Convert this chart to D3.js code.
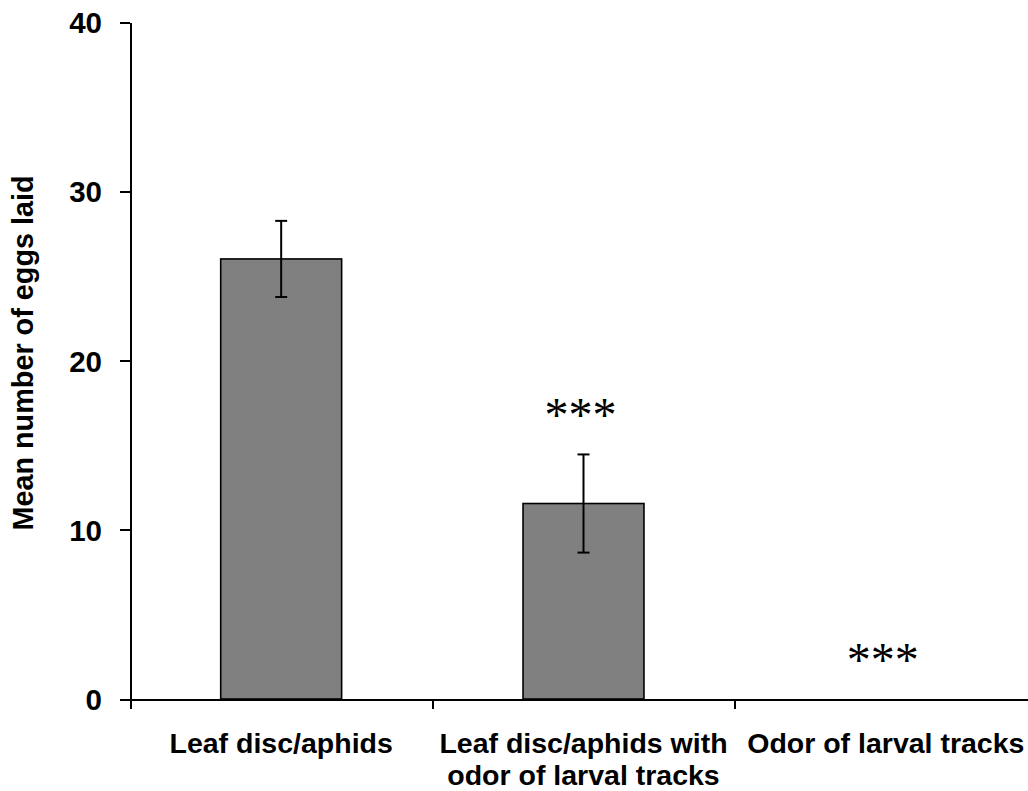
<!DOCTYPE html>
<html>
<head>
<meta charset="utf-8">
<script src="https://cdn.jsdelivr.net/npm/d3@7"></script>
<style>
  html, body { margin: 0; padding: 0; background: #fff; }
  svg { display: block; }
  .axis path, .axis line { stroke: #000; stroke-width: 2px; shape-rendering: crispEdges; }
  .axis text { font-family: "Liberation Sans", Arial, sans-serif; font-weight: bold; fill: #000; }
</style>
</head>
<body>
<svg id="chart" width="1028" height="791"></svg>
<script>
// Treatments, mean eggs laid, standard errors and significance marks
const categories = ["Leaf disc/aphids", "Leaf disc/aphids with odor of larval tracks", "Odor of larval tracks"];
const categoryLines = [["Leaf disc/aphids"], ["Leaf disc/aphids with", "odor of larval tracks"], ["Odor of larval tracks"]];
const meanEggs = [26.0, 11.55, 0];
const stdErrors = [2.25, 2.9, 0];
const significance = ["", "***", "***"];
const yTicks = [0, 10, 20, 30, 40];
const yTitle = "Mean number of eggs laid";

const svg = d3.select("#chart");
const plotLeft = 130, plotRight = 1037, plotTop = 22, plotBottom = 699;

const x = d3.scaleBand()
  .domain(categories)
  .range([plotLeft, plotRight])
  .paddingInner(0.6)
  .paddingOuter(0.3);

// Category boundaries, used for the x-axis ticks
const xEdge = d3.scaleLinear().domain([0, categories.length]).range([plotLeft, plotRight]);

const y = d3.scaleLinear().domain([0, 40]).range([plotBottom, plotTop]);

// Bars
svg.append("g").selectAll("rect")
  .data(categories.filter((c, i) => meanEggs[i] > 0))
  .join("rect")
  .attr("x", d => x(d))
  .attr("width", x.bandwidth())
  .attr("y", d => y(meanEggs[categories.indexOf(d)]))
  .attr("height", d => plotBottom - y(meanEggs[categories.indexOf(d)]))
  .attr("fill", "#808080")
  .attr("stroke", "#000")
  .attr("stroke-width", 1.6);

// Error bars
const capHalf = 6;
const eb = svg.append("g").attr("stroke", "#000").attr("stroke-width", 2);
categories.forEach((c, i) => {
  if (stdErrors[i] <= 0) return;
  const cx = x(c) + x.bandwidth() / 2;
  const y1 = y(meanEggs[i] + stdErrors[i]);
  const y0 = y(meanEggs[i] - stdErrors[i]);
  eb.append("line").attr("x1", cx).attr("x2", cx).attr("y1", y1).attr("y2", y0);
  eb.append("line").attr("x1", cx - capHalf).attr("x2", cx + capHalf).attr("y1", y1).attr("y2", y1);
  eb.append("line").attr("x1", cx - capHalf).attr("x2", cx + capHalf).attr("y1", y0).attr("y2", y0);
});

// Significance asterisks above each bar's error bar
svg.append("g").selectAll("text")
  .data(categories)
  .join("text")
  .attr("x", d => x(d) + x.bandwidth() / 2 - 3)
  .attr("y", (d, i) => y(meanEggs[i] + stdErrors[i]) - 23)
  .attr("text-anchor", "middle")
  .attr("font-family", "'Liberation Serif', 'Times New Roman', serif")
  .attr("font-size", 48)
  .attr("fill", "#000")
  .text((d, i) => significance[i]);

// Y axis
const yAxis = svg.append("g")
  .attr("class", "axis")
  .attr("transform", `translate(${plotLeft},0)`)
  .call(d3.axisLeft(y).tickValues(yTicks).tickSize(10).tickSizeOuter(0).tickPadding(18));
yAxis.selectAll("text").attr("font-size", 29.5).attr("dy", "0.36em");

// X axis: ticks at category boundaries
svg.append("g")
  .attr("class", "axis")
  .attr("transform", `translate(0,${plotBottom})`)
  .call(d3.axisBottom(xEdge).tickValues(d3.range(categories.length + 1)).tickSize(10).tickSizeOuter(0).tickFormat(""));

// Category labels
const labels = svg.append("g")
  .attr("font-family", "'Liberation Sans', Arial, sans-serif")
  .attr("font-weight", "bold")
  .attr("font-size", 28.5)
  .attr("text-anchor", "middle")
  .attr("fill", "#000");
categories.forEach((c, i) => {
  const cx = x(c) + x.bandwidth() / 2;
  const t = labels.append("text").attr("x", cx).attr("y", 753);
  categoryLines[i].forEach((line, j) => {
    t.append("tspan").attr("x", cx).attr("dy", j === 0 ? 0 : 32).text(line);
  });
});

// Y axis title
svg.append("text")
  .attr("transform", "translate(33,353) rotate(-90)")
  .attr("text-anchor", "middle")
  .attr("font-family", "'Liberation Sans', Arial, sans-serif")
  .attr("font-weight", "bold")
  .attr("font-size", 28.8)
  .attr("fill", "#000")
  .text(yTitle);
</script>
</body>
</html>
